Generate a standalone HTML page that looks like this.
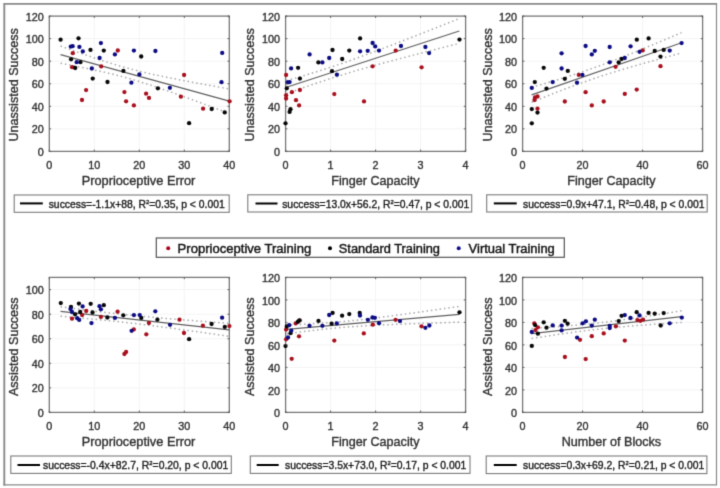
<!DOCTYPE html><html><head><meta charset="utf-8"><style>html,body{margin:0;padding:0;background:#fff;}svg{display:block;}text{font-family:"Liberation Sans",sans-serif;} .t{fill:#333;stroke:#333;stroke-width:0.38px;} .l{fill:#222;stroke:#222;stroke-width:0.38px;} .m{fill:#181818;stroke:#181818;stroke-width:0.45px;}</style></head><body>
<svg width="720" height="488" viewBox="0 0 720 488">
<defs><filter id="bl" x="0" y="0" width="720" height="488" filterUnits="userSpaceOnUse" color-interpolation-filters="sRGB"><feConvolveMatrix order="3" kernelMatrix="0 1 0 1 4 1 0 1 0" edgeMode="duplicate"/></filter></defs><g filter="url(#bl)">
<rect x="0" y="0" width="720" height="488" fill="#fff"/>
<path d="M3.3 3.85H717.1M4.3 2.9V485.5" stroke="#8a8a8a" stroke-width="1.9" fill="none"/>
<path d="M716.5 3V485.5M3.3 484.95H717.1" stroke="#8a8a8a" stroke-width="1.2" fill="none"/>
<line x1="94.3" y1="16.1" x2="94.3" y2="151.4" stroke="#f4f4f4" stroke-width="1"/><line x1="139.3" y1="16.1" x2="139.3" y2="151.4" stroke="#f4f4f4" stroke-width="1"/><line x1="184.3" y1="16.1" x2="184.3" y2="151.4" stroke="#f4f4f4" stroke-width="1"/><line x1="49.3" y1="128.85" x2="229.3" y2="128.85" stroke="#f4f4f4" stroke-width="1"/><line x1="49.3" y1="106.3" x2="229.3" y2="106.3" stroke="#f4f4f4" stroke-width="1"/><line x1="49.3" y1="83.75" x2="229.3" y2="83.75" stroke="#f4f4f4" stroke-width="1"/><line x1="49.3" y1="61.2" x2="229.3" y2="61.2" stroke="#f4f4f4" stroke-width="1"/><line x1="49.3" y1="38.65" x2="229.3" y2="38.65" stroke="#f4f4f4" stroke-width="1"/>
<rect x="49.3" y="16.1" width="180" height="135.3" fill="none" stroke="#787878" stroke-width="1.3"/>
<polyline points="60.55,46.02 63.36,47.04 66.17,48.06 68.99,49.07 71.8,50.08 74.61,51.09 77.42,52.09 80.24,53.08 83.05,54.07 85.86,55.05 88.67,56.02 91.49,56.98 94.3,57.94 97.11,58.88 99.92,59.81 102.74,60.73 105.55,61.64 108.36,62.53 111.17,63.4 113.99,64.26 116.8,65.11 119.61,65.93 122.42,66.74 125.24,67.53 128.05,68.3 130.86,69.05 133.68,69.78 136.49,70.5 139.3,71.19 142.11,71.87 144.93,72.54 147.74,73.19 150.55,73.82 153.36,74.45 156.18,75.06 158.99,75.66 161.8,76.25 164.61,76.83 167.43,77.41 170.24,77.97 173.05,78.53 175.86,79.09 178.68,79.63 181.49,80.17 184.3,80.71 187.11,81.24 189.93,81.77 192.74,82.3 195.55,82.82 198.36,83.34 201.18,83.85 203.99,84.37 206.8,84.88 209.61,85.39 212.43,85.89 215.24,86.4 218.05,86.9 220.86,87.4 223.68,87.9 226.49,88.4 229.3,88.89" fill="none" stroke="#a8a8a8" stroke-width="1.5" stroke-dasharray="1.5 2.9"/>
<polyline points="60.55,63.3 63.36,63.83 66.17,64.36 68.99,64.9 71.8,65.44 74.61,65.98 77.42,66.53 80.24,67.09 83.05,67.65 85.86,68.22 88.67,68.8 91.49,69.39 94.3,69.99 97.11,70.59 99.92,71.21 102.74,71.84 105.55,72.49 108.36,73.15 111.17,73.82 113.99,74.51 116.8,75.22 119.61,75.94 122.42,76.69 125.24,77.45 128.05,78.23 130.86,79.03 133.68,79.85 136.49,80.68 139.3,81.54 142.11,82.41 144.93,83.29 147.74,84.19 150.55,85.11 153.36,86.03 156.18,86.97 158.99,87.92 161.8,88.88 164.61,89.85 167.43,90.83 170.24,91.81 173.05,92.8 175.86,93.8 178.68,94.8 181.49,95.81 184.3,96.82 187.11,97.84 189.93,98.86 192.74,99.89 195.55,100.92 198.36,101.95 201.18,102.98 203.99,104.02 206.8,105.06 209.61,106.1 212.43,107.15 215.24,108.19 218.05,109.24 220.86,110.29 223.68,111.34 226.49,112.39 229.3,113.45" fill="none" stroke="#a8a8a8" stroke-width="1.5" stroke-dasharray="1.5 2.9"/>
<line x1="60.55" y1="54.66" x2="229.3" y2="101.17" stroke="#606060" stroke-width="1.2"/>
<circle cx="72.8" cy="53.2" r="2.15" fill="#a8101e"/><circle cx="72.1" cy="67.2" r="2.15" fill="#a8101e"/><circle cx="101.2" cy="66.4" r="2.15" fill="#a8101e"/><circle cx="117.8" cy="50.5" r="2.15" fill="#a8101e"/><circle cx="86.1" cy="90.1" r="2.15" fill="#a8101e"/><circle cx="82" cy="100" r="2.15" fill="#a8101e"/><circle cx="124.4" cy="92.1" r="2.15" fill="#a8101e"/><circle cx="126.1" cy="101.3" r="2.15" fill="#a8101e"/><circle cx="133.9" cy="105.4" r="2.15" fill="#a8101e"/><circle cx="184.1" cy="75" r="2.15" fill="#a8101e"/><circle cx="146.1" cy="93.7" r="2.15" fill="#a8101e"/><circle cx="149" cy="97.9" r="2.15" fill="#a8101e"/><circle cx="180.9" cy="96.7" r="2.15" fill="#a8101e"/><circle cx="203.1" cy="108.7" r="2.15" fill="#a8101e"/><circle cx="229.6" cy="101.3" r="2.15" fill="#a8101e"/><circle cx="60.6" cy="39.7" r="2.15" fill="#080808"/><circle cx="78.5" cy="38.3" r="2.15" fill="#080808"/><circle cx="71.1" cy="59.3" r="2.15" fill="#080808"/><circle cx="75.2" cy="68" r="2.15" fill="#080808"/><circle cx="80.4" cy="62.2" r="2.15" fill="#080808"/><circle cx="90.5" cy="49.9" r="2.15" fill="#080808"/><circle cx="103.8" cy="50.6" r="2.15" fill="#080808"/><circle cx="92.7" cy="78.6" r="2.15" fill="#080808"/><circle cx="107.5" cy="82" r="2.15" fill="#080808"/><circle cx="123.4" cy="70.9" r="2.15" fill="#080808"/><circle cx="141.2" cy="56.5" r="2.15" fill="#080808"/><circle cx="157.9" cy="88.3" r="2.15" fill="#080808"/><circle cx="211.7" cy="109" r="2.15" fill="#080808"/><circle cx="224.7" cy="112.4" r="2.15" fill="#080808"/><circle cx="189.1" cy="123.2" r="2.15" fill="#080808"/><circle cx="70.8" cy="46.6" r="2.15" fill="#0c0c84"/><circle cx="72.6" cy="46.2" r="2.15" fill="#0c0c84"/><circle cx="79.4" cy="46.9" r="2.15" fill="#0c0c84"/><circle cx="82.8" cy="51.4" r="2.15" fill="#0c0c84"/><circle cx="76.7" cy="62.2" r="2.15" fill="#0c0c84"/><circle cx="91.8" cy="68.5" r="2.15" fill="#0c0c84"/><circle cx="100.9" cy="43.1" r="2.15" fill="#0c0c84"/><circle cx="99.6" cy="58" r="2.15" fill="#0c0c84"/><circle cx="114.9" cy="54.4" r="2.15" fill="#0c0c84"/><circle cx="133.9" cy="50.6" r="2.15" fill="#0c0c84"/><circle cx="131.4" cy="82.7" r="2.15" fill="#0c0c84"/><circle cx="139.4" cy="74.4" r="2.15" fill="#0c0c84"/><circle cx="155.4" cy="51" r="2.15" fill="#0c0c84"/><circle cx="169.9" cy="87.8" r="2.15" fill="#0c0c84"/><circle cx="222.2" cy="52.9" r="2.15" fill="#0c0c84"/><circle cx="221.5" cy="82.2" r="2.15" fill="#0c0c84"/>
<path d="M49.3 151.4v-1.8M49.3 16.1v1.8M94.3 151.4v-1.8M94.3 16.1v1.8M139.3 151.4v-1.8M139.3 16.1v1.8M184.3 151.4v-1.8M184.3 16.1v1.8M229.3 151.4v-1.8M229.3 16.1v1.8M49.3 151.4h1.8M229.3 151.4h-1.8M49.3 128.85h1.8M229.3 128.85h-1.8M49.3 106.3h1.8M229.3 106.3h-1.8M49.3 83.75h1.8M229.3 83.75h-1.8M49.3 61.2h1.8M229.3 61.2h-1.8M49.3 38.65h1.8M229.3 38.65h-1.8M49.3 16.1h1.8M229.3 16.1h-1.8" stroke="#5a5a5a" stroke-width="1" fill="none"/>
<text x="49.3" y="168.7" text-anchor="middle" font-size="10.8" class="t">0</text><text x="94.3" y="168.7" text-anchor="middle" font-size="10.8" class="t">10</text><text x="139.3" y="168.7" text-anchor="middle" font-size="10.8" class="t">20</text><text x="184.3" y="168.7" text-anchor="middle" font-size="10.8" class="t">30</text><text x="229.3" y="168.7" text-anchor="middle" font-size="10.8" class="t">40</text><text x="43.7" y="156" text-anchor="end" font-size="10.8" class="t">0</text><text x="43.7" y="133.45" text-anchor="end" font-size="10.8" class="t">20</text><text x="43.7" y="110.9" text-anchor="end" font-size="10.8" class="t">40</text><text x="43.7" y="88.35" text-anchor="end" font-size="10.8" class="t">60</text><text x="43.7" y="65.8" text-anchor="end" font-size="10.8" class="t">80</text><text x="43.7" y="43.25" text-anchor="end" font-size="10.8" class="t">100</text><text x="43.7" y="20.7" text-anchor="end" font-size="10.8" class="t">120</text>
<text x="138.5" y="185" text-anchor="middle" font-size="12.6" class="t" textLength="113.6" lengthAdjust="spacingAndGlyphs">Proprioceptive Error</text>
<text transform="translate(17.5 84.9) rotate(-90)" text-anchor="middle" font-size="12.6" class="t">Unassisted Success</text>
<rect x="14.2" y="195" width="215" height="17.3" fill="#fff" stroke="#7c7c7c" stroke-width="1.1"/>
<line x1="20" y1="203.4" x2="42.8" y2="203.4" stroke="#000" stroke-width="2"/>
<text x="48.7" y="207.8" font-size="11" class="l" textLength="176" lengthAdjust="spacingAndGlyphs">success=-1.1x+88, R<tspan font-size="6.2" dy="-3.8">2</tspan><tspan dy="3.8">=0.35, p &lt; 0.001</tspan></text>
<line x1="330.6" y1="16.1" x2="330.6" y2="151.4" stroke="#f4f4f4" stroke-width="1"/><line x1="375.6" y1="16.1" x2="375.6" y2="151.4" stroke="#f4f4f4" stroke-width="1"/><line x1="420.6" y1="16.1" x2="420.6" y2="151.4" stroke="#f4f4f4" stroke-width="1"/><line x1="285.6" y1="128.85" x2="465.6" y2="128.85" stroke="#f4f4f4" stroke-width="1"/><line x1="285.6" y1="106.3" x2="465.6" y2="106.3" stroke="#f4f4f4" stroke-width="1"/><line x1="285.6" y1="83.75" x2="465.6" y2="83.75" stroke="#f4f4f4" stroke-width="1"/><line x1="285.6" y1="61.2" x2="465.6" y2="61.2" stroke="#f4f4f4" stroke-width="1"/><line x1="285.6" y1="38.65" x2="465.6" y2="38.65" stroke="#f4f4f4" stroke-width="1"/>
<rect x="285.6" y="16.1" width="180" height="135.3" fill="none" stroke="#787878" stroke-width="1.3"/>
<polyline points="286.5,80.7 289.38,79.88 292.26,79.06 295.14,78.22 298.02,77.38 300.9,76.53 303.78,75.67 306.66,74.8 309.54,73.93 312.42,73.04 315.3,72.14 318.18,71.24 321.06,70.32 323.94,69.4 326.82,68.46 329.7,67.52 332.58,66.56 335.46,65.6 338.34,64.62 341.22,63.63 344.1,62.64 346.98,61.64 349.86,60.62 352.74,59.6 355.62,58.57 358.5,57.53 361.38,56.49 364.26,55.44 367.14,54.38 370.02,53.31 372.9,52.24 375.78,51.16 378.66,50.08 381.54,48.99 384.42,47.9 387.3,46.81 390.18,45.7 393.06,44.6 395.94,43.49 398.82,42.38 401.7,41.27 404.58,40.15 407.46,39.03 410.34,37.9 413.22,36.78 416.1,35.65 418.98,34.52 421.86,33.39 424.74,32.25 427.62,31.11 430.5,29.98 433.38,28.84 436.26,27.69 439.14,26.55 442.02,25.41 444.9,24.26 447.78,23.12 450.66,21.97 453.54,20.82 456.42,19.67 459.3,18.52" fill="none" stroke="#a8a8a8" stroke-width="1.5" stroke-dasharray="1.5 2.9"/>
<polyline points="286.5,93.76 289.38,92.71 292.26,91.66 295.14,90.62 298.02,89.58 300.9,88.56 303.78,87.54 306.66,86.53 309.54,85.53 312.42,84.54 315.3,83.56 318.18,82.59 321.06,81.63 323.94,80.68 326.82,79.74 329.7,78.81 332.58,77.89 335.46,76.98 338.34,76.08 341.22,75.19 344.1,74.31 346.98,73.43 349.86,72.57 352.74,71.72 355.62,70.87 358.5,70.03 361.38,69.2 364.26,68.38 367.14,67.56 370.02,66.75 372.9,65.94 375.78,65.14 378.66,64.35 381.54,63.56 384.42,62.78 387.3,62 390.18,61.22 393.06,60.45 395.94,59.68 398.82,58.92 401.7,58.16 404.58,57.4 407.46,56.64 410.34,55.89 413.22,55.14 416.1,54.39 418.98,53.65 421.86,52.9 424.74,52.16 427.62,51.42 430.5,50.68 433.38,49.95 436.26,49.21 439.14,48.48 442.02,47.75 444.9,47.02 447.78,46.29 450.66,45.56 453.54,44.83 456.42,44.11 459.3,43.38" fill="none" stroke="#a8a8a8" stroke-width="1.5" stroke-dasharray="1.5 2.9"/>
<line x1="286.5" y1="87.23" x2="459.3" y2="30.95" stroke="#606060" stroke-width="1.2"/>
<circle cx="286.1" cy="75" r="2.15" fill="#a8101e"/><circle cx="291.9" cy="92.2" r="2.15" fill="#a8101e"/><circle cx="299.9" cy="90" r="2.15" fill="#a8101e"/><circle cx="286.1" cy="95.3" r="2.15" fill="#a8101e"/><circle cx="286.1" cy="98.5" r="2.15" fill="#a8101e"/><circle cx="296" cy="100.2" r="2.15" fill="#a8101e"/><circle cx="299.1" cy="105.4" r="2.15" fill="#a8101e"/><circle cx="334.3" cy="94.1" r="2.15" fill="#a8101e"/><circle cx="364" cy="101.4" r="2.15" fill="#a8101e"/><circle cx="395.7" cy="50.6" r="2.15" fill="#a8101e"/><circle cx="372.6" cy="66.3" r="2.15" fill="#a8101e"/><circle cx="421.6" cy="67.3" r="2.15" fill="#a8101e"/><circle cx="332.5" cy="50" r="2.15" fill="#080808"/><circle cx="318.4" cy="62.4" r="2.15" fill="#080808"/><circle cx="298.1" cy="67.8" r="2.15" fill="#080808"/><circle cx="299.9" cy="78.6" r="2.15" fill="#080808"/><circle cx="332" cy="71.2" r="2.15" fill="#080808"/><circle cx="286.8" cy="88.3" r="2.15" fill="#080808"/><circle cx="290.5" cy="109.2" r="2.15" fill="#080808"/><circle cx="289.6" cy="111.9" r="2.15" fill="#080808"/><circle cx="285.5" cy="123.3" r="2.15" fill="#080808"/><circle cx="360.1" cy="38.4" r="2.15" fill="#080808"/><circle cx="349.3" cy="50.6" r="2.15" fill="#080808"/><circle cx="342.2" cy="59" r="2.15" fill="#080808"/><circle cx="459.5" cy="39.6" r="2.15" fill="#080808"/><circle cx="309.6" cy="54.4" r="2.15" fill="#0c0c84"/><circle cx="329.2" cy="58" r="2.15" fill="#0c0c84"/><circle cx="322.4" cy="62.4" r="2.15" fill="#0c0c84"/><circle cx="291.1" cy="68.4" r="2.15" fill="#0c0c84"/><circle cx="336.9" cy="74.7" r="2.15" fill="#0c0c84"/><circle cx="287.7" cy="82.4" r="2.15" fill="#0c0c84"/><circle cx="289.6" cy="82.1" r="2.15" fill="#0c0c84"/><circle cx="360.1" cy="51.3" r="2.15" fill="#0c0c84"/><circle cx="367.7" cy="50.8" r="2.15" fill="#0c0c84"/><circle cx="372.6" cy="43" r="2.15" fill="#0c0c84"/><circle cx="375.2" cy="46.4" r="2.15" fill="#0c0c84"/><circle cx="379" cy="50.6" r="2.15" fill="#0c0c84"/><circle cx="401" cy="46" r="2.15" fill="#0c0c84"/><circle cx="425.4" cy="47" r="2.15" fill="#0c0c84"/><circle cx="429.1" cy="53.1" r="2.15" fill="#0c0c84"/>
<path d="M285.6 151.4v-1.8M285.6 16.1v1.8M330.6 151.4v-1.8M330.6 16.1v1.8M375.6 151.4v-1.8M375.6 16.1v1.8M420.6 151.4v-1.8M420.6 16.1v1.8M465.6 151.4v-1.8M465.6 16.1v1.8M285.6 151.4h1.8M465.6 151.4h-1.8M285.6 128.85h1.8M465.6 128.85h-1.8M285.6 106.3h1.8M465.6 106.3h-1.8M285.6 83.75h1.8M465.6 83.75h-1.8M285.6 61.2h1.8M465.6 61.2h-1.8M285.6 38.65h1.8M465.6 38.65h-1.8M285.6 16.1h1.8M465.6 16.1h-1.8" stroke="#5a5a5a" stroke-width="1" fill="none"/>
<text x="285.6" y="168.7" text-anchor="middle" font-size="10.8" class="t">0</text><text x="330.6" y="168.7" text-anchor="middle" font-size="10.8" class="t">1</text><text x="375.6" y="168.7" text-anchor="middle" font-size="10.8" class="t">2</text><text x="420.6" y="168.7" text-anchor="middle" font-size="10.8" class="t">3</text><text x="465.6" y="168.7" text-anchor="middle" font-size="10.8" class="t">4</text><text x="280" y="156" text-anchor="end" font-size="10.8" class="t">0</text><text x="280" y="133.45" text-anchor="end" font-size="10.8" class="t">20</text><text x="280" y="110.9" text-anchor="end" font-size="10.8" class="t">40</text><text x="280" y="88.35" text-anchor="end" font-size="10.8" class="t">60</text><text x="280" y="65.8" text-anchor="end" font-size="10.8" class="t">80</text><text x="280" y="43.25" text-anchor="end" font-size="10.8" class="t">100</text><text x="280" y="20.7" text-anchor="end" font-size="10.8" class="t">120</text>
<text x="375.4" y="185" text-anchor="middle" font-size="12.6" class="t">Finger Capacity</text>
<text transform="translate(254.3 84.9) rotate(-90)" text-anchor="middle" font-size="12.6" class="t">Unassisted Success</text>
<rect x="247.8" y="194.8" width="223.9" height="17.2" fill="#fff" stroke="#7c7c7c" stroke-width="1.1"/>
<line x1="255.5" y1="203.5" x2="277.5" y2="203.5" stroke="#000" stroke-width="2"/>
<text x="282.2" y="207.6" font-size="11" class="l" textLength="187" lengthAdjust="spacingAndGlyphs">success=13.0x+56.2, R<tspan font-size="6.2" dy="-3.8">2</tspan><tspan dy="3.8">=0.47, p &lt; 0.001</tspan></text>
<line x1="582.6" y1="16.1" x2="582.6" y2="151.4" stroke="#f4f4f4" stroke-width="1"/><line x1="642.6" y1="16.1" x2="642.6" y2="151.4" stroke="#f4f4f4" stroke-width="1"/><line x1="522.6" y1="128.85" x2="702.6" y2="128.85" stroke="#f4f4f4" stroke-width="1"/><line x1="522.6" y1="106.3" x2="702.6" y2="106.3" stroke="#f4f4f4" stroke-width="1"/><line x1="522.6" y1="83.75" x2="702.6" y2="83.75" stroke="#f4f4f4" stroke-width="1"/><line x1="522.6" y1="61.2" x2="702.6" y2="61.2" stroke="#f4f4f4" stroke-width="1"/><line x1="522.6" y1="38.65" x2="702.6" y2="38.65" stroke="#f4f4f4" stroke-width="1"/>
<rect x="522.6" y="16.1" width="180" height="135.3" fill="none" stroke="#787878" stroke-width="1.3"/>
<polyline points="531.6,87.28 534.1,86.58 536.6,85.87 539.1,85.15 541.6,84.44 544.1,83.71 546.6,82.99 549.1,82.25 551.6,81.51 554.1,80.77 556.6,80.02 559.1,79.26 561.6,78.49 564.1,77.72 566.6,76.94 569.1,76.15 571.6,75.36 574.1,74.55 576.6,73.74 579.1,72.91 581.6,72.08 584.1,71.23 586.6,70.38 589.1,69.51 591.6,68.64 594.1,67.76 596.6,66.86 599.1,65.96 601.6,65.05 604.1,64.12 606.6,63.19 609.1,62.25 611.6,61.3 614.1,60.34 616.6,59.38 619.1,58.41 621.6,57.43 624.1,56.44 626.6,55.45 629.1,54.45 631.6,53.45 634.1,52.44 636.6,51.43 639.1,50.41 641.6,49.39 644.1,48.36 646.6,47.33 649.1,46.3 651.6,45.26 654.1,44.22 656.6,43.18 659.1,42.14 661.6,41.09 664.1,40.04 666.6,38.99 669.1,37.93 671.6,36.87 674.1,35.82 676.6,34.76 679.1,33.69 681.6,32.63" fill="none" stroke="#a8a8a8" stroke-width="1.5" stroke-dasharray="1.5 2.9"/>
<polyline points="531.6,102.34 534.1,101.31 536.6,100.29 539.1,99.27 541.6,98.25 544.1,97.24 546.6,96.23 549.1,95.23 551.6,94.24 554.1,93.25 556.6,92.27 559.1,91.29 561.6,90.32 564.1,89.36 566.6,88.41 569.1,87.46 571.6,86.52 574.1,85.59 576.6,84.68 579.1,83.77 581.6,82.87 584.1,81.98 586.6,81.1 589.1,80.23 591.6,79.37 594.1,78.52 596.6,77.68 599.1,76.85 601.6,76.03 604.1,75.21 606.6,74.41 609.1,73.62 611.6,72.83 614.1,72.06 616.6,71.29 619.1,70.52 621.6,69.77 624.1,69.02 626.6,68.28 629.1,67.54 631.6,66.81 634.1,66.08 636.6,65.36 639.1,64.65 641.6,63.94 644.1,63.23 646.6,62.52 649.1,61.82 651.6,61.12 654.1,60.43 656.6,59.74 659.1,59.05 661.6,58.36 664.1,57.68 666.6,57 669.1,56.32 671.6,55.64 674.1,54.97 676.6,54.29 679.1,53.62 681.6,52.95" fill="none" stroke="#a8a8a8" stroke-width="1.5" stroke-dasharray="1.5 2.9"/>
<line x1="531.6" y1="94.81" x2="681.6" y2="42.79" stroke="#606060" stroke-width="1.2"/>
<circle cx="578.8" cy="74.9" r="2.15" fill="#a8101e"/><circle cx="535" cy="97.5" r="2.15" fill="#a8101e"/><circle cx="537.5" cy="96.5" r="2.15" fill="#a8101e"/><circle cx="534.5" cy="100" r="2.15" fill="#a8101e"/><circle cx="585.6" cy="92.2" r="2.15" fill="#a8101e"/><circle cx="564.8" cy="101.5" r="2.15" fill="#a8101e"/><circle cx="591.8" cy="105.4" r="2.15" fill="#a8101e"/><circle cx="537.5" cy="108.7" r="2.15" fill="#a8101e"/><circle cx="642.7" cy="50.4" r="2.15" fill="#a8101e"/><circle cx="615.6" cy="66.8" r="2.15" fill="#a8101e"/><circle cx="636.7" cy="89.6" r="2.15" fill="#a8101e"/><circle cx="603.7" cy="101.5" r="2.15" fill="#a8101e"/><circle cx="624.8" cy="93.9" r="2.15" fill="#a8101e"/><circle cx="660.5" cy="66.2" r="2.15" fill="#a8101e"/><circle cx="543.7" cy="67.8" r="2.15" fill="#080808"/><circle cx="567.8" cy="70.9" r="2.15" fill="#080808"/><circle cx="564.8" cy="78.8" r="2.15" fill="#080808"/><circle cx="534.8" cy="82.1" r="2.15" fill="#080808"/><circle cx="546.5" cy="88.6" r="2.15" fill="#080808"/><circle cx="531.8" cy="109.1" r="2.15" fill="#080808"/><circle cx="537.5" cy="112.6" r="2.15" fill="#080808"/><circle cx="531.8" cy="123.3" r="2.15" fill="#080808"/><circle cx="636.8" cy="39.7" r="2.15" fill="#080808"/><circle cx="648.6" cy="38.4" r="2.15" fill="#080808"/><circle cx="621.6" cy="59" r="2.15" fill="#080808"/><circle cx="618.7" cy="62.3" r="2.15" fill="#080808"/><circle cx="654.7" cy="50.9" r="2.15" fill="#080808"/><circle cx="663.7" cy="49.9" r="2.15" fill="#080808"/><circle cx="660.5" cy="56.6" r="2.15" fill="#080808"/><circle cx="585.6" cy="46" r="2.15" fill="#0c0c84"/><circle cx="561.6" cy="53.3" r="2.15" fill="#0c0c84"/><circle cx="561.6" cy="68.5" r="2.15" fill="#0c0c84"/><circle cx="582.4" cy="74.9" r="2.15" fill="#0c0c84"/><circle cx="552.7" cy="82.1" r="2.15" fill="#0c0c84"/><circle cx="577" cy="82.7" r="2.15" fill="#0c0c84"/><circle cx="531.8" cy="87.9" r="2.15" fill="#0c0c84"/><circle cx="594.8" cy="50.8" r="2.15" fill="#0c0c84"/><circle cx="591.8" cy="54.4" r="2.15" fill="#0c0c84"/><circle cx="609.7" cy="47" r="2.15" fill="#0c0c84"/><circle cx="630.6" cy="46.3" r="2.15" fill="#0c0c84"/><circle cx="639.5" cy="51.8" r="2.15" fill="#0c0c84"/><circle cx="624.8" cy="58" r="2.15" fill="#0c0c84"/><circle cx="609.7" cy="62.3" r="2.15" fill="#0c0c84"/><circle cx="669.7" cy="50.6" r="2.15" fill="#0c0c84"/><circle cx="681.6" cy="43.1" r="2.15" fill="#0c0c84"/>
<path d="M522.6 151.4v-1.8M522.6 16.1v1.8M582.6 151.4v-1.8M582.6 16.1v1.8M642.6 151.4v-1.8M642.6 16.1v1.8M702.6 151.4v-1.8M702.6 16.1v1.8M522.6 151.4h1.8M702.6 151.4h-1.8M522.6 128.85h1.8M702.6 128.85h-1.8M522.6 106.3h1.8M702.6 106.3h-1.8M522.6 83.75h1.8M702.6 83.75h-1.8M522.6 61.2h1.8M702.6 61.2h-1.8M522.6 38.65h1.8M702.6 38.65h-1.8M522.6 16.1h1.8M702.6 16.1h-1.8" stroke="#5a5a5a" stroke-width="1" fill="none"/>
<text x="522.6" y="168.7" text-anchor="middle" font-size="10.8" class="t">0</text><text x="582.6" y="168.7" text-anchor="middle" font-size="10.8" class="t">20</text><text x="642.6" y="168.7" text-anchor="middle" font-size="10.8" class="t">40</text><text x="702.6" y="168.7" text-anchor="middle" font-size="10.8" class="t">60</text><text x="517" y="156" text-anchor="end" font-size="10.8" class="t">0</text><text x="517" y="133.45" text-anchor="end" font-size="10.8" class="t">20</text><text x="517" y="110.9" text-anchor="end" font-size="10.8" class="t">40</text><text x="517" y="88.35" text-anchor="end" font-size="10.8" class="t">60</text><text x="517" y="65.8" text-anchor="end" font-size="10.8" class="t">80</text><text x="517" y="43.25" text-anchor="end" font-size="10.8" class="t">100</text><text x="517" y="20.7" text-anchor="end" font-size="10.8" class="t">120</text>
<text x="611.4" y="185" text-anchor="middle" font-size="12.6" class="t">Finger Capacity</text>
<text transform="translate(491.6 84.9) rotate(-90)" text-anchor="middle" font-size="12.6" class="t">Unassisted Success</text>
<rect x="486.7" y="194.8" width="220.5" height="17.2" fill="#fff" stroke="#7c7c7c" stroke-width="1.1"/>
<line x1="493.8" y1="203.4" x2="516.7" y2="203.4" stroke="#000" stroke-width="2"/>
<text x="523" y="207.6" font-size="11" class="l" textLength="181.5" lengthAdjust="spacingAndGlyphs">success=0.9x+47.1, R<tspan font-size="6.2" dy="-3.8">2</tspan><tspan dy="3.8">=0.48, p &lt; 0.001</tspan></text>
<line x1="94.3" y1="277.4" x2="94.3" y2="412.4" stroke="#f4f4f4" stroke-width="1"/><line x1="139.3" y1="277.4" x2="139.3" y2="412.4" stroke="#f4f4f4" stroke-width="1"/><line x1="184.3" y1="277.4" x2="184.3" y2="412.4" stroke="#f4f4f4" stroke-width="1"/><line x1="49.3" y1="387.85" x2="229.3" y2="387.85" stroke="#f4f4f4" stroke-width="1"/><line x1="49.3" y1="363.31" x2="229.3" y2="363.31" stroke="#f4f4f4" stroke-width="1"/><line x1="49.3" y1="338.76" x2="229.3" y2="338.76" stroke="#f4f4f4" stroke-width="1"/><line x1="49.3" y1="314.22" x2="229.3" y2="314.22" stroke="#f4f4f4" stroke-width="1"/><line x1="49.3" y1="289.67" x2="229.3" y2="289.67" stroke="#f4f4f4" stroke-width="1"/>
<rect x="49.3" y="277.4" width="180" height="135" fill="none" stroke="#787878" stroke-width="1.3"/>
<polyline points="60.55,306.75 63.36,307.13 66.17,307.5 68.99,307.87 71.8,308.24 74.61,308.61 77.42,308.97 80.24,309.33 83.05,309.69 85.86,310.04 88.67,310.39 91.49,310.73 94.3,311.08 97.11,311.41 99.92,311.75 102.74,312.08 105.55,312.4 108.36,312.73 111.17,313.04 113.99,313.36 116.8,313.67 119.61,313.97 122.42,314.27 125.24,314.57 128.05,314.86 130.86,315.15 133.68,315.43 136.49,315.71 139.3,315.99 142.11,316.26 144.93,316.53 147.74,316.79 150.55,317.05 153.36,317.31 156.18,317.56 158.99,317.81 161.8,318.06 164.61,318.31 167.43,318.55 170.24,318.79 173.05,319.02 175.86,319.26 178.68,319.49 181.49,319.72 184.3,319.95 187.11,320.17 189.93,320.4 192.74,320.62 195.55,320.84 198.36,321.05 201.18,321.27 203.99,321.49 206.8,321.7 209.61,321.91 212.43,322.12 215.24,322.33 218.05,322.54 220.86,322.75 223.68,322.95 226.49,323.16 229.3,323.36" fill="none" stroke="#a8a8a8" stroke-width="1.5" stroke-dasharray="1.5 2.9"/>
<polyline points="60.55,316.16 63.36,316.4 66.17,316.64 68.99,316.88 71.8,317.13 74.61,317.37 77.42,317.62 80.24,317.88 83.05,318.14 85.86,318.4 88.67,318.66 91.49,318.93 94.3,319.2 97.11,319.48 99.92,319.76 102.74,320.04 105.55,320.33 108.36,320.62 111.17,320.92 113.99,321.22 116.8,321.52 119.61,321.83 122.42,322.14 125.24,322.46 128.05,322.78 130.86,323.11 133.68,323.44 136.49,323.77 139.3,324.11 142.11,324.45 144.93,324.8 147.74,325.15 150.55,325.5 153.36,325.86 156.18,326.21 158.99,326.58 161.8,326.94 164.61,327.31 167.43,327.68 170.24,328.06 173.05,328.44 175.86,328.81 178.68,329.2 181.49,329.58 184.3,329.97 187.11,330.36 189.93,330.75 192.74,331.14 195.55,331.53 198.36,331.93 201.18,332.32 203.99,332.72 206.8,333.12 209.61,333.53 212.43,333.93 215.24,334.33 218.05,334.74 220.86,335.14 223.68,335.55 226.49,335.96 229.3,336.37" fill="none" stroke="#a8a8a8" stroke-width="1.5" stroke-dasharray="1.5 2.9"/>
<line x1="60.55" y1="311.46" x2="229.3" y2="329.87" stroke="#606060" stroke-width="1.2"/>
<circle cx="82.1" cy="315.1" r="2.15" fill="#a8101e"/><circle cx="86.2" cy="311" r="2.15" fill="#a8101e"/><circle cx="72" cy="318.7" r="2.15" fill="#a8101e"/><circle cx="100.9" cy="316.9" r="2.15" fill="#a8101e"/><circle cx="117.6" cy="311.7" r="2.15" fill="#a8101e"/><circle cx="148.9" cy="323" r="2.15" fill="#a8101e"/><circle cx="179.5" cy="319.7" r="2.15" fill="#a8101e"/><circle cx="133.8" cy="329.4" r="2.15" fill="#a8101e"/><circle cx="146.3" cy="334.3" r="2.15" fill="#a8101e"/><circle cx="124.4" cy="354" r="2.15" fill="#a8101e"/><circle cx="126.1" cy="352" r="2.15" fill="#a8101e"/><circle cx="184" cy="333" r="2.15" fill="#a8101e"/><circle cx="202.9" cy="325.7" r="2.15" fill="#a8101e"/><circle cx="229.4" cy="326.1" r="2.15" fill="#a8101e"/><circle cx="60.8" cy="303.1" r="2.15" fill="#080808"/><circle cx="71" cy="306.9" r="2.15" fill="#080808"/><circle cx="75.1" cy="314.3" r="2.15" fill="#080808"/><circle cx="78.9" cy="303.6" r="2.15" fill="#080808"/><circle cx="80.2" cy="312" r="2.15" fill="#080808"/><circle cx="90.7" cy="303.8" r="2.15" fill="#080808"/><circle cx="92.5" cy="312.5" r="2.15" fill="#080808"/><circle cx="103.8" cy="305.2" r="2.15" fill="#080808"/><circle cx="107.4" cy="317.5" r="2.15" fill="#080808"/><circle cx="123.3" cy="315.3" r="2.15" fill="#080808"/><circle cx="141.3" cy="317.9" r="2.15" fill="#080808"/><circle cx="157.4" cy="319.7" r="2.15" fill="#080808"/><circle cx="189.1" cy="339.2" r="2.15" fill="#080808"/><circle cx="211.6" cy="324" r="2.15" fill="#080808"/><circle cx="224.8" cy="326.9" r="2.15" fill="#080808"/><circle cx="70.5" cy="309" r="2.15" fill="#0c0c84"/><circle cx="72" cy="312" r="2.15" fill="#0c0c84"/><circle cx="82.6" cy="306.4" r="2.15" fill="#0c0c84"/><circle cx="77.2" cy="318.2" r="2.15" fill="#0c0c84"/><circle cx="79.2" cy="319.9" r="2.15" fill="#0c0c84"/><circle cx="91.5" cy="323.1" r="2.15" fill="#0c0c84"/><circle cx="99.5" cy="306.2" r="2.15" fill="#0c0c84"/><circle cx="100.9" cy="309.3" r="2.15" fill="#0c0c84"/><circle cx="114.9" cy="317.9" r="2.15" fill="#0c0c84"/><circle cx="133.9" cy="315.1" r="2.15" fill="#0c0c84"/><circle cx="139.7" cy="315.1" r="2.15" fill="#0c0c84"/><circle cx="155.3" cy="311.3" r="2.15" fill="#0c0c84"/><circle cx="170" cy="324.8" r="2.15" fill="#0c0c84"/><circle cx="131.6" cy="330.8" r="2.15" fill="#0c0c84"/><circle cx="222.1" cy="317.7" r="2.15" fill="#0c0c84"/>
<path d="M49.3 412.4v-1.8M49.3 277.4v1.8M94.3 412.4v-1.8M94.3 277.4v1.8M139.3 412.4v-1.8M139.3 277.4v1.8M184.3 412.4v-1.8M184.3 277.4v1.8M229.3 412.4v-1.8M229.3 277.4v1.8M49.3 412.4h1.8M229.3 412.4h-1.8M49.3 387.85h1.8M229.3 387.85h-1.8M49.3 363.31h1.8M229.3 363.31h-1.8M49.3 338.76h1.8M229.3 338.76h-1.8M49.3 314.22h1.8M229.3 314.22h-1.8M49.3 289.67h1.8M229.3 289.67h-1.8" stroke="#5a5a5a" stroke-width="1" fill="none"/>
<text x="49.3" y="429.7" text-anchor="middle" font-size="10.8" class="t">0</text><text x="94.3" y="429.7" text-anchor="middle" font-size="10.8" class="t">10</text><text x="139.3" y="429.7" text-anchor="middle" font-size="10.8" class="t">20</text><text x="184.3" y="429.7" text-anchor="middle" font-size="10.8" class="t">30</text><text x="229.3" y="429.7" text-anchor="middle" font-size="10.8" class="t">40</text><text x="43.7" y="417" text-anchor="end" font-size="10.8" class="t">0</text><text x="43.7" y="392.45" text-anchor="end" font-size="10.8" class="t">20</text><text x="43.7" y="367.91" text-anchor="end" font-size="10.8" class="t">40</text><text x="43.7" y="343.36" text-anchor="end" font-size="10.8" class="t">60</text><text x="43.7" y="318.82" text-anchor="end" font-size="10.8" class="t">80</text><text x="43.7" y="294.27" text-anchor="end" font-size="10.8" class="t">100</text>
<text x="138.5" y="446" text-anchor="middle" font-size="12.6" class="t" textLength="113.6" lengthAdjust="spacingAndGlyphs">Proprioceptive Error</text>
<text transform="translate(17.5 346.75) rotate(-90)" text-anchor="middle" font-size="12.6" class="t">Assisted Success</text>
<rect x="10.8" y="456" width="220.5" height="17.4" fill="#fff" stroke="#7c7c7c" stroke-width="1.1"/>
<line x1="17.5" y1="465" x2="40" y2="465" stroke="#000" stroke-width="2"/>
<text x="43" y="468.8" font-size="11" class="l" textLength="185.3" lengthAdjust="spacingAndGlyphs">success=-0.4x+82.7, R<tspan font-size="6.2" dy="-3.8">2</tspan><tspan dy="3.8">=0.20, p &lt; 0.001</tspan></text>
<line x1="330.6" y1="277.4" x2="330.6" y2="412.4" stroke="#f4f4f4" stroke-width="1"/><line x1="375.6" y1="277.4" x2="375.6" y2="412.4" stroke="#f4f4f4" stroke-width="1"/><line x1="420.6" y1="277.4" x2="420.6" y2="412.4" stroke="#f4f4f4" stroke-width="1"/><line x1="285.6" y1="389.9" x2="465.6" y2="389.9" stroke="#f4f4f4" stroke-width="1"/><line x1="285.6" y1="367.4" x2="465.6" y2="367.4" stroke="#f4f4f4" stroke-width="1"/><line x1="285.6" y1="344.9" x2="465.6" y2="344.9" stroke="#f4f4f4" stroke-width="1"/><line x1="285.6" y1="322.4" x2="465.6" y2="322.4" stroke="#f4f4f4" stroke-width="1"/><line x1="285.6" y1="299.9" x2="465.6" y2="299.9" stroke="#f4f4f4" stroke-width="1"/>
<rect x="285.6" y="277.4" width="180" height="135" fill="none" stroke="#787878" stroke-width="1.3"/>
<polyline points="286.5,325.03 289.38,324.91 292.26,324.79 295.14,324.66 298.02,324.52 300.9,324.38 303.78,324.24 306.66,324.09 309.54,323.94 312.42,323.78 315.3,323.61 318.18,323.43 321.06,323.25 323.94,323.05 326.82,322.85 329.7,322.64 332.58,322.42 335.46,322.19 338.34,321.95 341.22,321.69 344.1,321.43 346.98,321.16 349.86,320.87 352.74,320.58 355.62,320.28 358.5,319.96 361.38,319.64 364.26,319.31 367.14,318.98 370.02,318.63 372.9,318.28 375.78,317.93 378.66,317.57 381.54,317.2 384.42,316.83 387.3,316.45 390.18,316.08 393.06,315.69 395.94,315.31 398.82,314.92 401.7,314.53 404.58,314.14 407.46,313.74 410.34,313.35 413.22,312.95 416.1,312.55 418.98,312.14 421.86,311.74 424.74,311.33 427.62,310.93 430.5,310.52 433.38,310.11 436.26,309.7 439.14,309.29 442.02,308.88 444.9,308.47 447.78,308.05 450.66,307.64 453.54,307.23 456.42,306.81 459.3,306.4" fill="none" stroke="#a8a8a8" stroke-width="1.5" stroke-dasharray="1.5 2.9"/>
<polyline points="286.5,333.78 289.38,333.4 292.26,333.02 295.14,332.65 298.02,332.28 300.9,331.91 303.78,331.55 306.66,331.2 309.54,330.85 312.42,330.51 315.3,330.17 318.18,329.84 321.06,329.52 323.94,329.21 326.82,328.91 329.7,328.62 332.58,328.33 335.46,328.06 338.34,327.8 341.22,327.55 344.1,327.31 346.98,327.08 349.86,326.86 352.74,326.65 355.62,326.45 358.5,326.25 361.38,326.07 364.26,325.9 367.14,325.73 370.02,325.57 372.9,325.41 375.78,325.27 378.66,325.12 381.54,324.99 384.42,324.85 387.3,324.72 390.18,324.6 393.06,324.48 395.94,324.36 398.82,324.24 401.7,324.13 404.58,324.02 407.46,323.91 410.34,323.8 413.22,323.7 416.1,323.59 418.98,323.49 421.86,323.39 424.74,323.29 427.62,323.19 430.5,323.1 433.38,323 436.26,322.91 439.14,322.81 442.02,322.72 444.9,322.63 447.78,322.54 450.66,322.45 453.54,322.36 456.42,322.27 459.3,322.18" fill="none" stroke="#a8a8a8" stroke-width="1.5" stroke-dasharray="1.5 2.9"/>
<line x1="286.5" y1="329.41" x2="459.3" y2="314.29" stroke="#606060" stroke-width="1.2"/>
<circle cx="291.7" cy="358.8" r="2.15" fill="#a8101e"/><circle cx="286.1" cy="339.3" r="2.15" fill="#a8101e"/><circle cx="286.1" cy="329.5" r="2.15" fill="#a8101e"/><circle cx="295.7" cy="323.4" r="2.15" fill="#a8101e"/><circle cx="299" cy="320.7" r="2.15" fill="#a8101e"/><circle cx="299" cy="336.3" r="2.15" fill="#a8101e"/><circle cx="334.3" cy="340.6" r="2.15" fill="#a8101e"/><circle cx="363.8" cy="333.4" r="2.15" fill="#a8101e"/><circle cx="372.8" cy="324.7" r="2.15" fill="#a8101e"/><circle cx="395.6" cy="319.8" r="2.15" fill="#a8101e"/><circle cx="421.5" cy="326.3" r="2.15" fill="#a8101e"/><circle cx="285.5" cy="346.1" r="2.15" fill="#080808"/><circle cx="290.5" cy="333.2" r="2.15" fill="#080808"/><circle cx="286.8" cy="326.4" r="2.15" fill="#080808"/><circle cx="297.8" cy="321.9" r="2.15" fill="#080808"/><circle cx="299.7" cy="320.3" r="2.15" fill="#080808"/><circle cx="318.5" cy="320.9" r="2.15" fill="#080808"/><circle cx="332.6" cy="312.9" r="2.15" fill="#080808"/><circle cx="331.6" cy="323.7" r="2.15" fill="#080808"/><circle cx="342.1" cy="315.7" r="2.15" fill="#080808"/><circle cx="349.3" cy="314.1" r="2.15" fill="#080808"/><circle cx="359.7" cy="312.9" r="2.15" fill="#080808"/><circle cx="459.5" cy="312.3" r="2.15" fill="#080808"/><circle cx="288" cy="337.5" r="2.15" fill="#0c0c84"/><circle cx="291.3" cy="330.7" r="2.15" fill="#0c0c84"/><circle cx="289.2" cy="325.2" r="2.15" fill="#0c0c84"/><circle cx="309.5" cy="325.8" r="2.15" fill="#0c0c84"/><circle cx="322.4" cy="325.8" r="2.15" fill="#0c0c84"/><circle cx="329.2" cy="315" r="2.15" fill="#0c0c84"/><circle cx="336.8" cy="323.4" r="2.15" fill="#0c0c84"/><circle cx="360" cy="315.5" r="2.15" fill="#0c0c84"/><circle cx="367.9" cy="319.8" r="2.15" fill="#0c0c84"/><circle cx="372.5" cy="317.5" r="2.15" fill="#0c0c84"/><circle cx="374.9" cy="317.8" r="2.15" fill="#0c0c84"/><circle cx="379" cy="323.2" r="2.15" fill="#0c0c84"/><circle cx="400" cy="321.1" r="2.15" fill="#0c0c84"/><circle cx="425.4" cy="327.8" r="2.15" fill="#0c0c84"/><circle cx="429.4" cy="325.5" r="2.15" fill="#0c0c84"/>
<path d="M285.6 412.4v-1.8M285.6 277.4v1.8M330.6 412.4v-1.8M330.6 277.4v1.8M375.6 412.4v-1.8M375.6 277.4v1.8M420.6 412.4v-1.8M420.6 277.4v1.8M465.6 412.4v-1.8M465.6 277.4v1.8M285.6 412.4h1.8M465.6 412.4h-1.8M285.6 389.9h1.8M465.6 389.9h-1.8M285.6 367.4h1.8M465.6 367.4h-1.8M285.6 344.9h1.8M465.6 344.9h-1.8M285.6 322.4h1.8M465.6 322.4h-1.8M285.6 299.9h1.8M465.6 299.9h-1.8M285.6 277.4h1.8M465.6 277.4h-1.8" stroke="#5a5a5a" stroke-width="1" fill="none"/>
<text x="285.6" y="429.7" text-anchor="middle" font-size="10.8" class="t">0</text><text x="330.6" y="429.7" text-anchor="middle" font-size="10.8" class="t">1</text><text x="375.6" y="429.7" text-anchor="middle" font-size="10.8" class="t">2</text><text x="420.6" y="429.7" text-anchor="middle" font-size="10.8" class="t">3</text><text x="465.6" y="429.7" text-anchor="middle" font-size="10.8" class="t">4</text><text x="280" y="417" text-anchor="end" font-size="10.8" class="t">0</text><text x="280" y="394.5" text-anchor="end" font-size="10.8" class="t">20</text><text x="280" y="372" text-anchor="end" font-size="10.8" class="t">40</text><text x="280" y="349.5" text-anchor="end" font-size="10.8" class="t">60</text><text x="280" y="327" text-anchor="end" font-size="10.8" class="t">80</text><text x="280" y="304.5" text-anchor="end" font-size="10.8" class="t">100</text><text x="280" y="282" text-anchor="end" font-size="10.8" class="t">120</text>
<text x="375.4" y="446" text-anchor="middle" font-size="12.6" class="t">Finger Capacity</text>
<text transform="translate(254.3 346.75) rotate(-90)" text-anchor="middle" font-size="12.6" class="t">Assisted Success</text>
<rect x="250.3" y="456" width="219.7" height="17.4" fill="#fff" stroke="#7c7c7c" stroke-width="1.1"/>
<line x1="256.7" y1="465" x2="278.7" y2="465" stroke="#000" stroke-width="2"/>
<text x="285" y="468.8" font-size="11" class="l" textLength="181.3" lengthAdjust="spacingAndGlyphs">success=3.5x+73.0, R<tspan font-size="6.2" dy="-3.8">2</tspan><tspan dy="3.8">=0.17, p &lt; 0.001</tspan></text>
<line x1="582.6" y1="277.4" x2="582.6" y2="412.4" stroke="#f4f4f4" stroke-width="1"/><line x1="642.6" y1="277.4" x2="642.6" y2="412.4" stroke="#f4f4f4" stroke-width="1"/><line x1="522.6" y1="389.9" x2="702.6" y2="389.9" stroke="#f4f4f4" stroke-width="1"/><line x1="522.6" y1="367.4" x2="702.6" y2="367.4" stroke="#f4f4f4" stroke-width="1"/><line x1="522.6" y1="344.9" x2="702.6" y2="344.9" stroke="#f4f4f4" stroke-width="1"/><line x1="522.6" y1="322.4" x2="702.6" y2="322.4" stroke="#f4f4f4" stroke-width="1"/><line x1="522.6" y1="299.9" x2="702.6" y2="299.9" stroke="#f4f4f4" stroke-width="1"/>
<rect x="522.6" y="277.4" width="180" height="135" fill="none" stroke="#787878" stroke-width="1.3"/>
<polyline points="531.6,328.55 534.1,328.39 536.6,328.22 539.1,328.04 541.6,327.87 544.1,327.69 546.6,327.51 549.1,327.33 551.6,327.14 554.1,326.96 556.6,326.77 559.1,326.57 561.6,326.37 564.1,326.17 566.6,325.97 569.1,325.75 571.6,325.54 574.1,325.32 576.6,325.09 579.1,324.86 581.6,324.63 584.1,324.38 586.6,324.13 589.1,323.88 591.6,323.62 594.1,323.35 596.6,323.07 599.1,322.79 601.6,322.5 604.1,322.21 606.6,321.91 609.1,321.6 611.6,321.28 614.1,320.96 616.6,320.63 619.1,320.3 621.6,319.96 624.1,319.62 626.6,319.27 629.1,318.92 631.6,318.56 634.1,318.2 636.6,317.84 639.1,317.47 641.6,317.09 644.1,316.72 646.6,316.34 649.1,315.96 651.6,315.58 654.1,315.19 656.6,314.8 659.1,314.41 661.6,314.02 664.1,313.63 666.6,313.23 669.1,312.83 671.6,312.43 674.1,312.03 676.6,311.63 679.1,311.23 681.6,310.83" fill="none" stroke="#a8a8a8" stroke-width="1.5" stroke-dasharray="1.5 2.9"/>
<polyline points="531.6,338.52 534.1,338.13 536.6,337.73 539.1,337.35 541.6,336.96 544.1,336.57 546.6,336.19 549.1,335.81 551.6,335.43 554.1,335.06 556.6,334.68 559.1,334.32 561.6,333.95 564.1,333.59 566.6,333.23 569.1,332.88 571.6,332.54 574.1,332.19 576.6,331.86 579.1,331.52 581.6,331.2 584.1,330.88 586.6,330.57 589.1,330.26 591.6,329.96 594.1,329.66 596.6,329.38 599.1,329.09 601.6,328.82 604.1,328.55 606.6,328.29 609.1,328.04 611.6,327.79 614.1,327.55 616.6,327.32 619.1,327.09 621.6,326.86 624.1,326.64 626.6,326.43 629.1,326.22 631.6,326.01 634.1,325.81 636.6,325.61 639.1,325.42 641.6,325.23 644.1,325.04 646.6,324.86 649.1,324.68 651.6,324.5 654.1,324.32 656.6,324.15 659.1,323.98 661.6,323.81 664.1,323.64 666.6,323.47 669.1,323.3 671.6,323.14 674.1,322.98 676.6,322.82 679.1,322.66 681.6,322.5" fill="none" stroke="#a8a8a8" stroke-width="1.5" stroke-dasharray="1.5 2.9"/>
<line x1="531.6" y1="333.54" x2="681.6" y2="316.66" stroke="#606060" stroke-width="1.2"/>
<circle cx="534.3" cy="323.4" r="2.15" fill="#a8101e"/><circle cx="535.5" cy="330.1" r="2.15" fill="#a8101e"/><circle cx="537.9" cy="327.3" r="2.15" fill="#a8101e"/><circle cx="580" cy="339.8" r="2.15" fill="#a8101e"/><circle cx="564.9" cy="357" r="2.15" fill="#a8101e"/><circle cx="585.7" cy="359.1" r="2.15" fill="#a8101e"/><circle cx="591.8" cy="336.2" r="2.15" fill="#a8101e"/><circle cx="603.7" cy="333.4" r="2.15" fill="#a8101e"/><circle cx="615.9" cy="326.3" r="2.15" fill="#a8101e"/><circle cx="624.8" cy="340.6" r="2.15" fill="#a8101e"/><circle cx="637.4" cy="320.1" r="2.15" fill="#a8101e"/><circle cx="640.3" cy="320.8" r="2.15" fill="#a8101e"/><circle cx="643.1" cy="319.7" r="2.15" fill="#a8101e"/><circle cx="531.8" cy="345.9" r="2.15" fill="#080808"/><circle cx="535.1" cy="325.1" r="2.15" fill="#080808"/><circle cx="537.9" cy="333.7" r="2.15" fill="#080808"/><circle cx="543.7" cy="322.3" r="2.15" fill="#080808"/><circle cx="546.5" cy="327.7" r="2.15" fill="#080808"/><circle cx="564.9" cy="320.8" r="2.15" fill="#080808"/><circle cx="567.6" cy="323.7" r="2.15" fill="#080808"/><circle cx="618.7" cy="321.1" r="2.15" fill="#080808"/><circle cx="621.6" cy="315.8" r="2.15" fill="#080808"/><circle cx="636.7" cy="312.2" r="2.15" fill="#080808"/><circle cx="648.6" cy="312.9" r="2.15" fill="#080808"/><circle cx="654.7" cy="313.7" r="2.15" fill="#080808"/><circle cx="663.7" cy="313.1" r="2.15" fill="#080808"/><circle cx="660.7" cy="325.5" r="2.15" fill="#080808"/><circle cx="531.8" cy="332" r="2.15" fill="#0c0c84"/><circle cx="552.7" cy="325.4" r="2.15" fill="#0c0c84"/><circle cx="561.6" cy="325.6" r="2.15" fill="#0c0c84"/><circle cx="561.6" cy="330.4" r="2.15" fill="#0c0c84"/><circle cx="577.1" cy="337.6" r="2.15" fill="#0c0c84"/><circle cx="582.6" cy="323.3" r="2.15" fill="#0c0c84"/><circle cx="585.9" cy="321.3" r="2.15" fill="#0c0c84"/><circle cx="594.8" cy="319.7" r="2.15" fill="#0c0c84"/><circle cx="591.8" cy="325.6" r="2.15" fill="#0c0c84"/><circle cx="609.7" cy="325.8" r="2.15" fill="#0c0c84"/><circle cx="609.7" cy="328" r="2.15" fill="#0c0c84"/><circle cx="624.8" cy="315.1" r="2.15" fill="#0c0c84"/><circle cx="630.5" cy="318" r="2.15" fill="#0c0c84"/><circle cx="639.5" cy="315.4" r="2.15" fill="#0c0c84"/><circle cx="669.7" cy="323.3" r="2.15" fill="#0c0c84"/><circle cx="681.8" cy="317.6" r="2.15" fill="#0c0c84"/>
<path d="M522.6 412.4v-1.8M522.6 277.4v1.8M582.6 412.4v-1.8M582.6 277.4v1.8M642.6 412.4v-1.8M642.6 277.4v1.8M702.6 412.4v-1.8M702.6 277.4v1.8M522.6 412.4h1.8M702.6 412.4h-1.8M522.6 389.9h1.8M702.6 389.9h-1.8M522.6 367.4h1.8M702.6 367.4h-1.8M522.6 344.9h1.8M702.6 344.9h-1.8M522.6 322.4h1.8M702.6 322.4h-1.8M522.6 299.9h1.8M702.6 299.9h-1.8M522.6 277.4h1.8M702.6 277.4h-1.8" stroke="#5a5a5a" stroke-width="1" fill="none"/>
<text x="522.6" y="429.7" text-anchor="middle" font-size="10.8" class="t">0</text><text x="582.6" y="429.7" text-anchor="middle" font-size="10.8" class="t">20</text><text x="642.6" y="429.7" text-anchor="middle" font-size="10.8" class="t">40</text><text x="702.6" y="429.7" text-anchor="middle" font-size="10.8" class="t">60</text><text x="517" y="417" text-anchor="end" font-size="10.8" class="t">0</text><text x="517" y="394.5" text-anchor="end" font-size="10.8" class="t">20</text><text x="517" y="372" text-anchor="end" font-size="10.8" class="t">40</text><text x="517" y="349.5" text-anchor="end" font-size="10.8" class="t">60</text><text x="517" y="327" text-anchor="end" font-size="10.8" class="t">80</text><text x="517" y="304.5" text-anchor="end" font-size="10.8" class="t">100</text><text x="517" y="282" text-anchor="end" font-size="10.8" class="t">120</text>
<text x="611.4" y="446" text-anchor="middle" font-size="12.6" class="t">Number of Blocks</text>
<text transform="translate(491.6 346.75) rotate(-90)" text-anchor="middle" font-size="12.6" class="t">Assisted Success</text>
<rect x="486.2" y="456" width="220.7" height="17.6" fill="#fff" stroke="#7c7c7c" stroke-width="1.1"/>
<line x1="493.8" y1="465" x2="516.7" y2="465" stroke="#000" stroke-width="2"/>
<text x="523" y="468.8" font-size="11" class="l" textLength="181.2" lengthAdjust="spacingAndGlyphs">success=0.3x+69.2, R<tspan font-size="6.2" dy="-3.8">2</tspan><tspan dy="3.8">=0.21, p &lt; 0.001</tspan></text>
<rect x="156.3" y="238" width="408" height="19.3" fill="#fff" stroke="#555" stroke-width="1.2"/>
<circle cx="168.2" cy="248.2" r="2" fill="#a8001c"/>
<circle cx="330" cy="248.2" r="2" fill="#000"/>
<circle cx="458.7" cy="248.2" r="2" fill="#10108a"/>
<text x="177.6" y="252.9" font-size="12.8" class="m" textLength="133.6" lengthAdjust="spacingAndGlyphs">Proprioceptive Training</text>
<text x="338.8" y="252.9" font-size="12.8" class="m" textLength="101.2" lengthAdjust="spacingAndGlyphs">Standard Training</text>
<text x="468.6" y="252.9" font-size="12.8" class="m" textLength="86.2" lengthAdjust="spacingAndGlyphs">Virtual Training</text>
</g></svg></body></html>
